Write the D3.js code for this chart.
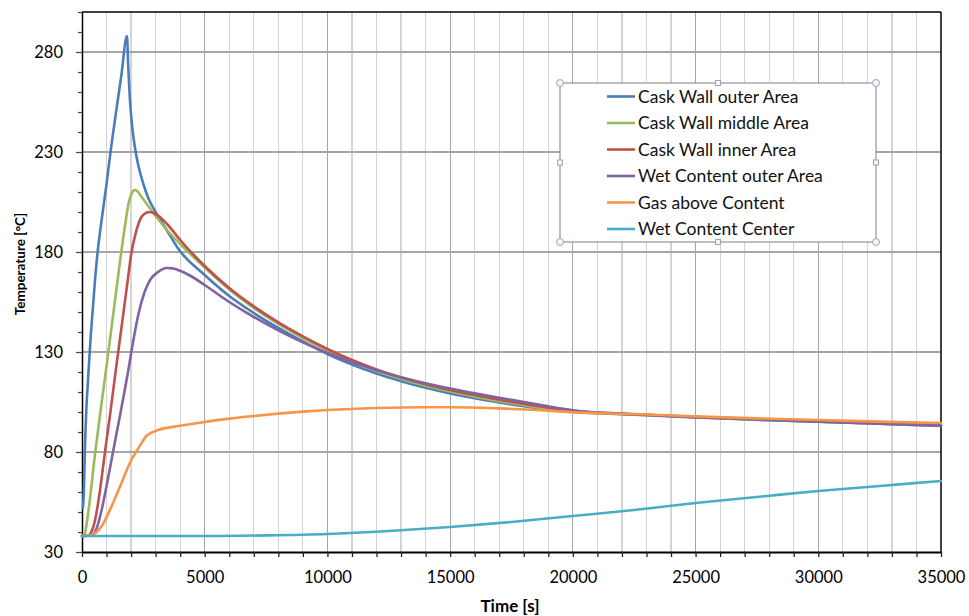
<!DOCTYPE html>
<html>
<head>
<meta charset="utf-8">
<script src="https://cdn.jsdelivr.net/npm/d3@7"></script>
<style>
  html, body { margin: 0; padding: 0; background: #fff; }
  svg { display: block; font-family: Lato, "Open Sans", sans-serif; }
</style>
</head>
<body>
<svg id="chart" width="969" height="616"></svg>
<script>
// ---------------- DATA ----------------
const seriesNames = ["Cask Wall outer Area", "Cask Wall middle Area", "Cask Wall inner Area",
                     "Wet Content outer Area", "Gas above Content", "Wet Content Center"];
const seriesColors = ["#4a7ebb", "#9bbb59", "#c0504d", "#8064a2", "#f79646", "#4bacc6"];

const lateTimes = [5000, 6000, 7000, 8000, 9000, 10000, 11000, 12000, 13000, 14000, 15000, 16000,
                   17000, 18000, 19000, 20000, 22500, 25000, 27500, 30000, 32500, 35000];

const outerTimes = [40, 80, 120, 176, 245, 350, 450, 530, 611, 800, 1000, 1141, 1400, 1600, 1833,
                    1880, 1930, 1990, 2060, 2160, 2300, 2500, 2700, 3000, 3500, 3900].concat(lateTimes);
const outerTemps = [52, 62, 82, 101, 116, 137, 153, 166, 177, 196, 214, 228, 251, 268, 288,
                    274, 261, 250, 241, 232, 223, 214, 207, 200, 190, 182,
                    168.5, 158, 149.5, 142, 135.3, 129, 123.7, 119.2, 115.4, 112.1, 109.3, 106.9,
                    104.8, 102.9, 101.3, 100.1, 98.6, 97.3, 96.1, 95.1, 94.1, 93.1];

const middleTimes = [0, 100, 200, 300, 530, 760, 1000, 1200, 1400, 1600, 1800, 1900, 2000, 2080, 2160,
                     2250, 2400, 2700, 3000, 3500, 4000].concat(lateTimes);
const middleTemps = [38, 38.5, 45, 54, 79, 101, 123, 142, 161, 180, 197, 204.5, 208.5, 210.5, 211,
                     210.5, 208, 203, 198, 190.5, 184,
                     172.2, 161.2, 152, 144, 137, 130.7, 125.2, 120.5, 116.5, 113.1, 110.2, 107.7,
                     105.4, 103.4, 101.5, 100.1, 98.8, 97.4, 96.2, 95.2, 94.2, 93.2];

const innerTimes = [0, 250, 400, 550, 700, 937, 1168, 1400, 1650, 1875, 2000, 2200, 2420, 2600, 2760,
                    3000, 3500, 4000].concat(lateTimes);
const innerTemps = [38, 38.2, 40.5, 47, 58, 80, 101, 123, 146, 167, 178.5, 190, 197.5, 199.5, 200,
                    199, 193.5, 186,
                    173, 162, 152.8, 144.8, 137.8, 131.5, 126, 121.3, 117.3, 113.9, 111, 108.5,
                    106.2, 104.1, 102.2, 100.6, 98.9, 97.5, 96.4, 95.4, 94.4, 93.4];

const wetOuterTimes = [0, 400, 600, 800, 1000, 1263, 1590, 1875, 2080, 2300, 2550, 2800, 3100, 3430,
                       3700, 3910, 4500].concat(lateTimes);
const wetOuterTemps = [38, 38.3, 42, 51, 63, 80, 101, 120, 135, 149, 160, 166.5, 170, 172,
                       171.8, 171, 167.5,
                       163.5, 155, 147.5, 140.8, 134.8, 129.5, 124.9, 120.9, 117.4, 114.4, 111.7, 109.3,
                       107.1, 105, 102.8, 100.9, 98.9, 97.4, 96.2, 95.1, 94.1, 93.2];

const gasTimes = [0, 380, 790, 1200, 1600, 2010, 2250, 2420, 2620, 2800, 3100, 3910, 5000, 6000, 7000,
                  8000, 9000, 10000, 12000, 14000, 15000, 17000, 19000, 20000, 22500, 25000, 27500,
                  30000, 32500, 35000];
const gasTemps = [38, 38.5, 42.7, 52.7, 64.3, 76, 81, 84.3, 88, 89.5, 91, 93, 95, 96.7, 98,
                  99.2, 100.2, 101, 102, 102.4, 102.4, 101.8, 100.7, 99.8, 99, 97.8, 96.8,
                  96, 95.2, 94.5];

const centerTimes = [0, 5000, 7500, 10000, 12500, 15000, 17500, 20000, 22500, 25000, 27500, 30000,
                     32500, 35000];
const centerTemps = [38, 38, 38.3, 39, 40.5, 42.5, 45, 48, 51, 54.5, 57.5, 60.5, 63, 65.5];

const xTickValues = [0, 5000, 10000, 15000, 20000, 25000, 30000, 35000];
const yTickValues = [30, 80, 130, 180, 230, 280];

const allTimes = [outerTimes, middleTimes, innerTimes, wetOuterTimes, gasTimes, centerTimes];
const allTemps = [outerTemps, middleTemps, innerTemps, wetOuterTemps, gasTemps, centerTemps];

// ---------------- CHART ----------------
const svg = d3.select("#chart");
const L = 82, R = 941, T = 12, B = 552;
const x = d3.scaleLinear().domain([0, 35000]).range([L, R]);
const y = d3.scaleLinear().domain([30, 300]).range([B, T]);

// gridlines
const grid = svg.append("g");
d3.range(1000, 35000, 1000).forEach(v => {
  grid.append("line").attr("x1", x(v)).attr("x2", x(v)).attr("y1", T).attr("y2", B)
    .attr("stroke", v % 5000 === 0 ? "#a6a6a6" : "#d4d4d4").attr("stroke-width", 1.2)
    .attr("shape-rendering", "crispEdges");
});
yTickValues.slice(1).forEach(v => {
  grid.append("line").attr("x1", L).attr("x2", R).attr("y1", y(v)).attr("y2", y(v))
    .attr("stroke", "#a6a6a6").attr("stroke-width", 1.2).attr("shape-rendering", "crispEdges");
});

// border top/right
svg.append("line").attr("x1", L).attr("x2", R).attr("y1", T).attr("y2", T)
  .attr("stroke", "#000").attr("stroke-width", 1.5);
svg.append("line").attr("x1", R).attr("x2", R).attr("y1", T).attr("y2", B)
  .attr("stroke", "#000").attr("stroke-width", 1.5);

// axes
const xAxis = d3.axisBottom(x).tickValues(d3.range(0, 35001, 1000))
  .tickFormat(d => xTickValues.includes(d) ? d : "").tickSize(5).tickPadding(14).tickSizeOuter(0);
const gx = svg.append("g").attr("transform", `translate(0,${B})`).call(xAxis);
gx.select(".domain").attr("stroke", "#000").attr("stroke-width", 1.8);
gx.selectAll(".tick line").attr("stroke", "#222").attr("stroke-width", 1.3);
gx.selectAll(".tick text").attr("font-size", 16.5).attr("fill", "#000").attr("font-family", "Lato, sans-serif");

const yAxis = d3.axisLeft(y).tickValues(d3.range(30, 301, 10))
  .tickFormat(d => yTickValues.includes(d) ? d : "").tickSize(5).tickPadding(14).tickSizeOuter(0);
const gy = svg.append("g").attr("transform", `translate(${L},0)`).call(yAxis);
gy.select(".domain").attr("stroke", "#000").attr("stroke-width", 1.5);
gy.selectAll(".tick line").attr("stroke", "#444").attr("stroke-width", 1.2)
  .attr("x2", d => yTickValues.includes(d) ? -6 : -4);
gy.selectAll(".tick text").attr("font-size", 16.5).attr("fill", "#000").attr("font-family", "Lato, sans-serif");

// axis titles
svg.append("text").attr("x", 510).attr("y", 612).attr("text-anchor", "middle")
  .attr("font-weight", "bold").attr("font-size", 17).text("Time [s]");
svg.append("text").attr("transform", "translate(25,264) rotate(-90)").attr("text-anchor", "middle")
  .attr("font-weight", "bold").attr("font-size", 13.5).text("Temperature [°C]");

// lines
const line = d3.line().x(d => x(d[0])).y(d => y(d[1])).curve(d3.curveMonotoneX);
const linesG = svg.append("g");
seriesNames.forEach((name, i) => {
  const pts = allTimes[i].map((t, j) => [t, allTemps[i][j]]);
  linesG.append("path").datum(pts).attr("d", line)
    .attr("fill", "none").attr("stroke", seriesColors[i]).attr("stroke-width", 2.6)
    .attr("stroke-linejoin", "round").attr("stroke-linecap", "round");
});

// legend
const lg = svg.append("g");
const lx0 = 560, ly0 = 83, lx1 = 876, ly1 = 242;
lg.append("rect").attr("x", lx0).attr("y", ly0).attr("width", lx1 - lx0).attr("height", ly1 - ly0)
  .attr("fill", "#fff").attr("stroke", "#7f7f7f").attr("stroke-width", 1);
seriesNames.forEach((name, i) => {
  const yy = 96.5 + i * 26.5;
  lg.append("line").attr("x1", 607).attr("x2", 635).attr("y1", yy).attr("y2", yy)
    .attr("stroke", seriesColors[i]).attr("stroke-width", 2.6);
  lg.append("text").attr("x", 638).attr("y", yy).attr("dy", "0.36em")
    .attr("font-size", 17.5).attr("fill", "#111").text(name);
});
// selection handles
[[lx0, ly0], [lx1, ly0], [lx0, ly1], [lx1, ly1]].forEach(p => {
  lg.append("circle").attr("cx", p[0]).attr("cy", p[1]).attr("r", 3.5)
    .attr("fill", "#f4f8fb").attr("stroke", "#8fa9c0").attr("stroke-width", 1);
});
[[(lx0 + lx1) / 2, ly0], [(lx0 + lx1) / 2, ly1], [lx0, (ly0 + ly1) / 2], [lx1, (ly0 + ly1) / 2]].forEach(p => {
  lg.append("rect").attr("x", p[0] - 2.5).attr("y", p[1] - 2.5).attr("width", 5).attr("height", 5)
    .attr("fill", "#f4f8fb").attr("stroke", "#8fa9c0").attr("stroke-width", 1);
});
</script>
</body>
</html>
